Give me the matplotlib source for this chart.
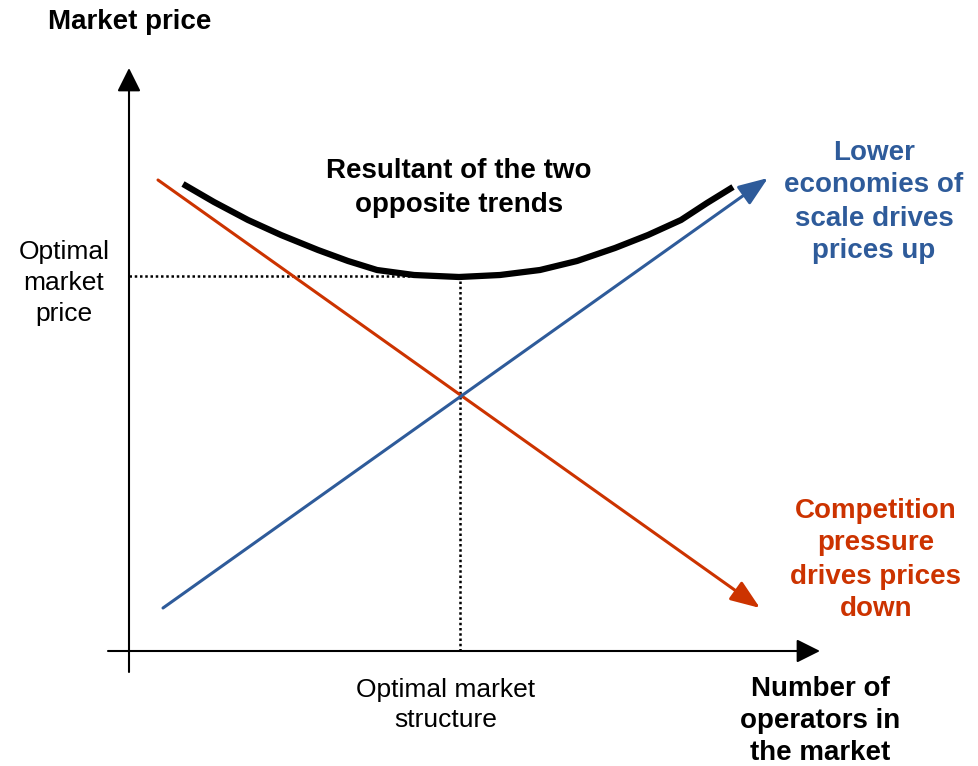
import numpy as np
import matplotlib
matplotlib.use('Agg')
import matplotlib.pyplot as plt

plt.rcParams['font.family'] = ['Liberation Sans', 'DejaVu Sans']

# Diagram data (origin at the axis crossing, units ~ pixels of the original)
competition_x = [29, 631]
competition_y = [471, 43]
scale_x = [34, 639]
scale_y = [43, 473]

resultant_x = [54, 85, 119, 152, 189, 219, 248, 285, 330, 371, 411, 448, 486, 519, 552, 578, 604]
resultant_y = [467, 449, 431, 416, 401, 390, 381, 376, 374, 376, 381, 390, 403, 416, 431, 448, 464]

optimum_x = 331
optimum_y = 375

axis_x = [-21, 691]
axis_y = [-21, 583]

red = '#CC3300'
blue = '#2E5B9A'

fig = plt.figure(figsize=(9.79, 7.66), dpi=100)
ax = fig.add_axes([0, 0, 1, 1])
ax.set_xlim(-129, 850)
ax.set_ylim(-115, 651)
ax.axis('off')

# axes with arrows
ax.annotate('', xy=(axis_x[1], 0), xytext=(axis_x[0], 0),
            arrowprops=dict(arrowstyle='-|>,head_length=0.9,head_width=0.45', color='black',
                            lw=1.5, shrinkA=0, shrinkB=0, mutation_scale=16))
ax.annotate('', xy=(0, axis_y[1]), xytext=(0, axis_y[0]),
            arrowprops=dict(arrowstyle='-|>,head_length=0.9,head_width=0.45', color='black',
                            lw=1.5, shrinkA=0, shrinkB=0, mutation_scale=16))

# optimum guides
ax.plot([0, optimum_x], [optimum_y, optimum_y], color='black', lw=1.8, linestyle=(0, (1, 1.1)))
ax.plot([optimum_x, optimum_x], [0, optimum_y], color='black', lw=1.8, linestyle=(0, (1, 1.1)))

# trends
ax.annotate('', xy=(competition_x[1], competition_y[1]), xytext=(competition_x[0], competition_y[0]),
            arrowprops=dict(arrowstyle='-|>,head_length=1.0,head_width=0.38', color=red,
                            lw=2.2, shrinkA=0, shrinkB=0, mutation_scale=18))
ax.annotate('', xy=(scale_x[1], scale_y[1]), xytext=(scale_x[0], scale_y[0]),
            arrowprops=dict(arrowstyle='-|>,head_length=1.0,head_width=0.38', color=blue,
                            lw=2.2, shrinkA=0, shrinkB=0, mutation_scale=18))

ax.plot(resultant_x, resultant_y, color='black', lw=4.5, solid_capstyle='butt', solid_joinstyle='round')

# labels
ax.text(1, 629, 'Market price', fontsize=20, fontweight='bold', ha='center', va='center')
ax.text(-65, 368, 'Optimal\nmarket\nprice', fontsize=19, ha='center', va='center', linespacing=1.38)
ax.text(330, 463, 'Resultant of the two\nopposite trends', fontsize=20, fontweight='bold',
        ha='center', va='center', linespacing=1.38)
ax.text(745, 449, 'Lower\neconomies of\nscale drives\nprices up', fontsize=20, fontweight='bold',
        color=blue, ha='center', va='center', linespacing=1.35)
ax.text(747, 91, 'Competition\npressure\ndrives prices\ndown', fontsize=20, fontweight='bold',
        color=red, ha='center', va='center', linespacing=1.35)
ax.text(317, -54, 'Optimal market\nstructure', fontsize=19, ha='center', va='center', linespacing=1.33)
ax.text(691, -70, 'Number of\noperators in\nthe market', fontsize=20, fontweight='bold',
        ha='center', va='center', linespacing=1.32)

fig.savefig('out.png', dpi=100)
